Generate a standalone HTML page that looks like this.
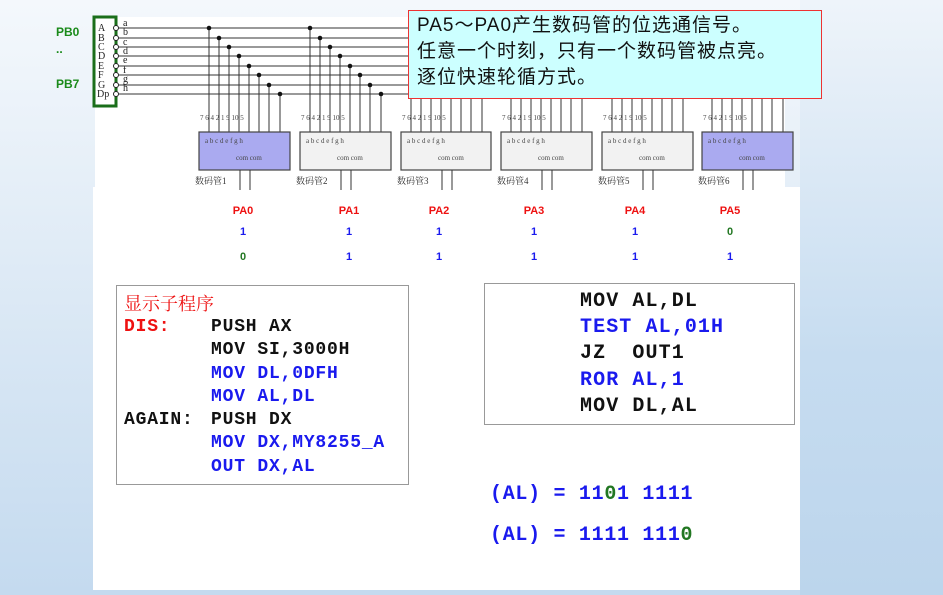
<!DOCTYPE html>
<html><head><meta charset="utf-8"><style>
html,body{margin:0;padding:0;}
body{width:943px;height:595px;overflow:hidden;position:relative;background:linear-gradient(180deg,#f4f8fc 0%,#dce9f5 50%,#c4daef 100%);font-family:"Liberation Sans","Noto Sans CJK SC",sans-serif;}
.abs{position:absolute;}
.code{font-family:"Liberation Mono","Noto Sans CJK SC",monospace;font-weight:bold;white-space:pre;}
</style></head><body>
<div class="abs" style="left:93px;top:187px;width:707px;height:403px;background:#fff"></div>
<div class="abs" style="left:800px;top:0;width:143px;height:595px;background:linear-gradient(180deg,#eef4fa 0%,#c6dcf0 60%,#bcd5ec 100%)"></div>
<div class="abs" style="left:95px;top:17px;width:690px;height:170px;background:#fff"></div>

<svg class="abs" style="left:0;top:0" width="943" height="595" viewBox="0 0 943 595">
<g font-family="Liberation Sans" font-weight="bold" fill="#1a8a1a" font-size="12">
<text x="56" y="36">PB0</text><text x="56" y="53">..</text><text x="56" y="88">PB7</text>
</g>
<rect x="94" y="17" width="22" height="89" fill="none" stroke="#1a6e1a" stroke-width="3"/>
<g font-family="Liberation Serif" font-size="10" fill="#222">
<text x="98" y="31">A</text><text x="98" y="41">B</text><text x="98" y="50">C</text><text x="98" y="59">D</text><text x="98" y="69">E</text><text x="98" y="78">F</text><text x="98" y="88">G</text><text x="97" y="97">Dp</text>
<text x="123" y="26">a</text><text x="123" y="35">b</text><text x="123" y="45">c</text><text x="123" y="54">d</text><text x="123" y="63">e</text><text x="123" y="73">f</text><text x="123" y="82">g</text><text x="123" y="91">h</text>
</g>
<g stroke="#222" stroke-width="1" fill="#fff">
<circle cx="116" cy="28" r="2.5"/><circle cx="116" cy="38" r="2.5"/><circle cx="116" cy="47" r="2.5"/><circle cx="116" cy="56" r="2.5"/><circle cx="116" cy="66" r="2.5"/><circle cx="116" cy="75" r="2.5"/><circle cx="116" cy="85" r="2.5"/><circle cx="116" cy="94" r="2.5"/>
</g>
<g stroke="#333" stroke-width="1">
<line x1="119" y1="28" x2="410" y2="28"/><line x1="119" y1="38" x2="410" y2="38"/><line x1="119" y1="47" x2="410" y2="47"/><line x1="119" y1="56" x2="410" y2="56"/><line x1="119" y1="66" x2="410" y2="66"/><line x1="119" y1="75" x2="410" y2="75"/><line x1="119" y1="85" x2="410" y2="85"/><line x1="119" y1="94" x2="410" y2="94"/>
<line x1="209" y1="28" x2="209" y2="132"/><line x1="219" y1="38" x2="219" y2="132"/><line x1="229" y1="47" x2="229" y2="132"/><line x1="239" y1="56" x2="239" y2="132"/><line x1="249" y1="66" x2="249" y2="132"/><line x1="259" y1="75" x2="259" y2="132"/><line x1="269" y1="85" x2="269" y2="132"/><line x1="280" y1="94" x2="280" y2="132"/>
<line x1="310" y1="28" x2="310" y2="132"/><line x1="320" y1="38" x2="320" y2="132"/><line x1="330" y1="47" x2="330" y2="132"/><line x1="340" y1="56" x2="340" y2="132"/><line x1="350" y1="66" x2="350" y2="132"/><line x1="360" y1="75" x2="360" y2="132"/><line x1="370" y1="85" x2="370" y2="132"/><line x1="381" y1="94" x2="381" y2="132"/>
</g>
<g fill="#111">
<circle cx="209" cy="28" r="2.3"/><circle cx="219" cy="38" r="2.3"/><circle cx="229" cy="47" r="2.3"/><circle cx="239" cy="56" r="2.3"/><circle cx="249" cy="66" r="2.3"/><circle cx="259" cy="75" r="2.3"/><circle cx="269" cy="85" r="2.3"/><circle cx="280" cy="94" r="2.3"/>
<circle cx="310" cy="28" r="2.3"/><circle cx="320" cy="38" r="2.3"/><circle cx="330" cy="47" r="2.3"/><circle cx="340" cy="56" r="2.3"/><circle cx="350" cy="66" r="2.3"/><circle cx="360" cy="75" r="2.3"/><circle cx="370" cy="85" r="2.3"/><circle cx="381" cy="94" r="2.3"/>
</g>
<g stroke="#333" stroke-width="1">
<line x1="411" y1="98" x2="411" y2="132"/><line x1="421" y1="98" x2="421" y2="132"/><line x1="431" y1="98" x2="431" y2="132"/><line x1="441" y1="98" x2="441" y2="132"/><line x1="451" y1="98" x2="451" y2="132"/><line x1="461" y1="98" x2="461" y2="132"/><line x1="471" y1="98" x2="471" y2="132"/><line x1="482" y1="98" x2="482" y2="132"/>
<line x1="511" y1="98" x2="511" y2="132"/><line x1="521" y1="98" x2="521" y2="132"/><line x1="531" y1="98" x2="531" y2="132"/><line x1="541" y1="98" x2="541" y2="132"/><line x1="551" y1="98" x2="551" y2="132"/><line x1="561" y1="98" x2="561" y2="132"/><line x1="571" y1="98" x2="571" y2="132"/><line x1="582" y1="98" x2="582" y2="132"/>
<line x1="612" y1="98" x2="612" y2="132"/><line x1="622" y1="98" x2="622" y2="132"/><line x1="632" y1="98" x2="632" y2="132"/><line x1="642" y1="98" x2="642" y2="132"/><line x1="652" y1="98" x2="652" y2="132"/><line x1="662" y1="98" x2="662" y2="132"/><line x1="672" y1="98" x2="672" y2="132"/><line x1="683" y1="98" x2="683" y2="132"/>
<line x1="712" y1="98" x2="712" y2="132"/><line x1="722" y1="98" x2="722" y2="132"/><line x1="732" y1="98" x2="732" y2="132"/><line x1="742" y1="98" x2="742" y2="132"/><line x1="752" y1="98" x2="752" y2="132"/><line x1="762" y1="98" x2="762" y2="132"/><line x1="772" y1="98" x2="772" y2="132"/><line x1="783" y1="98" x2="783" y2="132"/>
</g>
<g stroke="#444" stroke-width="1.2">
<rect x="199" y="132" width="91" height="38" fill="#aaaaf0"/>
<rect x="300" y="132" width="91" height="38" fill="#f2f2f2"/>
<rect x="401" y="132" width="90" height="38" fill="#f2f2f2"/>
<rect x="501" y="132" width="91" height="38" fill="#f2f2f2"/>
<rect x="602" y="132" width="91" height="38" fill="#f2f2f2"/>
<rect x="702" y="132" width="91" height="38" fill="#aaaaf0"/>
</g>
<g stroke="#333" stroke-width="1">
<line x1="240" y1="170" x2="240" y2="190"/><line x1="250" y1="170" x2="250" y2="190"/>
<line x1="341" y1="170" x2="341" y2="190"/><line x1="351" y1="170" x2="351" y2="190"/>
<line x1="442" y1="170" x2="442" y2="190"/><line x1="452" y1="170" x2="452" y2="190"/>
<line x1="542" y1="170" x2="542" y2="190"/><line x1="552" y1="170" x2="552" y2="190"/>
<line x1="643" y1="170" x2="643" y2="190"/><line x1="653" y1="170" x2="653" y2="190"/>
<line x1="743" y1="170" x2="743" y2="190"/><line x1="753" y1="170" x2="753" y2="190"/>
</g>
<g font-family="Liberation Serif" font-size="7" fill="#444">
<text x="200" y="120">7  6  4  2  1  9 10 5</text>
<text x="301" y="120">7  6  4  2  1  9 10 5</text>
<text x="402" y="120">7  6  4  2  1  9 10 5</text>
<text x="502" y="120">7  6  4  2  1  9 10 5</text>
<text x="603" y="120">7  6  4  2  1  9 10 5</text>
<text x="703" y="120">7  6  4  2  1  9 10 5</text>
<text x="205" y="143">a  b  c  d  e  f   g h</text>
<text x="306" y="143">a  b  c  d  e  f   g h</text>
<text x="407" y="143">a  b  c  d  e  f   g h</text>
<text x="507" y="143">a  b  c  d  e  f   g h</text>
<text x="608" y="143">a  b  c  d  e  f   g h</text>
<text x="708" y="143">a  b  c  d  e  f   g h</text>
<text x="236" y="160">com com</text><text x="337" y="160">com com</text><text x="438" y="160">com com</text><text x="538" y="160">com com</text><text x="639" y="160">com com</text><text x="739" y="160">com com</text>
</g>
<g font-family="Liberation Serif,Noto Serif CJK SC,serif" font-size="9" fill="#333">
<text x="195" y="184">数码管1</text><text x="296" y="184">数码管2</text><text x="397" y="184">数码管3</text><text x="497" y="184">数码管4</text><text x="598" y="184">数码管5</text><text x="698" y="184">数码管6</text>
</g>
<g font-family="Liberation Sans" font-weight="bold" font-size="11" text-anchor="middle">
<g fill="#ee1111"><text x="243" y="214">PA0</text><text x="349" y="214">PA1</text><text x="439" y="214">PA2</text><text x="534" y="214">PA3</text><text x="635" y="214">PA4</text><text x="730" y="214">PA5</text></g>
<g fill="#1a1aee"><text x="243" y="235">1</text><text x="349" y="235">1</text><text x="439" y="235">1</text><text x="534" y="235">1</text><text x="635" y="235">1</text><text x="730" y="235" fill="#227722">0</text></g>
<g fill="#1a1aee"><text x="243" y="260" fill="#227722">0</text><text x="349" y="260">1</text><text x="439" y="260">1</text><text x="534" y="260">1</text><text x="635" y="260">1</text><text x="730" y="260">1</text></g>
</g>
</svg>

<div class="abs" style="left:408px;top:10px;width:412px;height:87px;background:#ccffff;border:1px solid #ee3333;"></div>
<div class="abs" style="left:417px;top:13px;font-size:19px;line-height:26px;color:#111;font-family:'Liberation Sans','WenQuanYi Zen Hei',sans-serif;white-space:nowrap;letter-spacing:1px">PA5～PA0产生数码管的位选通信号。<br>任意一个时刻，只有一个数码管被点亮。<br>逐位快速轮循方式。</div>

<div class="abs" style="left:116px;top:285px;width:291px;height:198px;border:1px solid #999;background:#fff"></div>
<div class="abs" style="left:124px;top:290px;font-size:18px;color:#ee1111;font-family:'Noto Serif CJK SC',serif">显示子程序</div>
<div class="abs code" style="left:124px;top:316px;font-size:18px;line-height:23.3px;color:#111;letter-spacing:0.8px"><span style="color:#ee1111">DIS:</span>



AGAIN:</div>
<div class="abs code" style="left:211px;top:316px;font-size:18px;line-height:23.3px;color:#111;letter-spacing:0.8px">PUSH AX
MOV SI,3000H
<span style="color:#1a1aee">MOV DL,0DFH</span>
<span style="color:#1a1aee">MOV AL,DL</span>
PUSH DX
<span style="color:#1a1aee">MOV DX,MY8255_A</span>
<span style="color:#1a1aee">OUT DX,AL</span></div>

<div class="abs" style="left:484px;top:283px;width:309px;height:140px;border:1px solid #999;background:#fff"></div>
<div class="abs code" style="left:580px;top:289px;font-size:20px;line-height:26.2px;color:#111;letter-spacing:1.1px">MOV AL,DL
<span style="color:#1a1aee">TEST AL,01H</span>
JZ  OUT1
<span style="color:#1a1aee">ROR AL,1</span>
MOV DL,AL</div>

<div class="abs code" style="left:490px;top:483px;font-size:20px;color:#1a1aee;letter-spacing:0.7px">(AL) = 11<span style="color:#227722">0</span>1 1111</div>
<div class="abs code" style="left:490px;top:524px;font-size:20px;color:#1a1aee;letter-spacing:0.7px">(AL) = 1111 111<span style="color:#227722">0</span></div>
</body></html>
